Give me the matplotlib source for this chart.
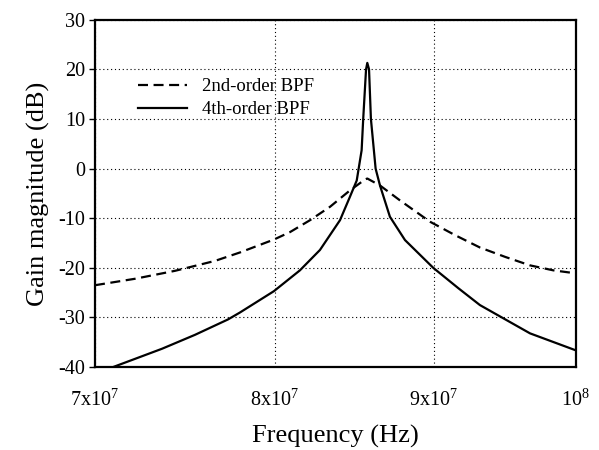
import matplotlib
matplotlib.use("Agg")
import matplotlib.pyplot as plt

plt.rcParams["font.family"] = ["Liberation Serif", "DejaVu Serif"]
plt.rcParams["mathtext.fontset"] = "custom"
plt.rcParams["mathtext.rm"] = "Liberation Serif"
plt.rcParams["axes.unicode_minus"] = False

# frequency points (x10^7 Hz) and gain (dB)
f2 = [7.000, 7.211, 7.428, 7.652, 7.795, 7.994, 8.090, 8.211, 8.334, 8.458,
      8.553, 8.568, 8.649, 8.778, 8.976, 9.144, 9.315, 9.492, 9.668, 9.836,
      10.0]
g2 = [-23.5, -22.2, -20.6, -18.6, -16.9, -14.3, -12.8, -10.4, -7.7, -4.4,
      -2.2, -2.0, -3.4, -6.4, -10.7, -13.4, -15.9, -17.8, -19.5, -20.5,
      -21.1]

f4 = [7.000, 7.094, 7.357, 7.539, 7.726, 7.795, 7.994, 8.150, 8.272, 8.396,
      8.458, 8.501, 8.532, 8.542, 8.560, 8.568, 8.579, 8.591, 8.621, 8.649,
      8.713, 8.811, 8.998, 9.167, 9.315, 9.668, 10.0]
g4 = [-41.4, -40.0, -36.3, -33.5, -30.4, -29.0, -24.7, -20.5, -16.4, -10.4,
      -5.7, -2.4, 3.7, 10.0, 20.0, 21.3, 20.0, 10.0, 0.0, -3.4,
      -9.7, -14.4, -20.0, -24.1, -27.5, -33.2, -36.6]

xticks = [7e7, 8e7, 9e7, 1e8]
xlabels = [r"7x10$^{7}$", r"8x10$^{7}$", r"9x10$^{7}$", r"10$^{8}$"]
yticks = [-40, -30, -20, -10, 0, 10, 20, 30]

fig = plt.figure(figsize=(5.99, 4.5), dpi=100)
ax = fig.add_axes([0.1586, 0.1842, 0.8022, 0.772])

ax.plot([v * 1e7 for v in f2], g2, color="black", lw=1.6,
        linestyle=(0, (4.5, 2.5)), label="2nd-order BPF")
ax.plot([v * 1e7 for v in f4], g4, color="black", lw=1.6,
        label="4th-order BPF")

ax.set_xscale("log")
ax.set_xlim(7e7, 1e8)
ax.set_ylim(-40, 30)
ax.set_xticks(xticks)
ax.set_xticklabels(xlabels)
ax.minorticks_off()
ax.set_yticks(yticks)
ax.grid(True, color="black", linestyle=(0, (1, 2.5)), linewidth=0.8)

for s in ax.spines.values():
    s.set_linewidth(1.6)

ax.tick_params(axis="x", length=0, pad=16, labelsize=14.5)
ax.tick_params(axis="y", length=4, width=1, direction="out", pad=3, labelsize=14.5)

ax.set_xlabel("Frequency (Hz)", fontsize=19, labelpad=10)
ax.set_ylabel("Gain magnitude (dB)", fontsize=19, labelpad=6)

ax.legend(loc="upper left", bbox_to_anchor=(0.055, 0.88), frameon=False,
          fontsize=13.5, handlelength=2.6, handletextpad=0.8, labelspacing=0.3)

fig.savefig("out.png", dpi=100)
